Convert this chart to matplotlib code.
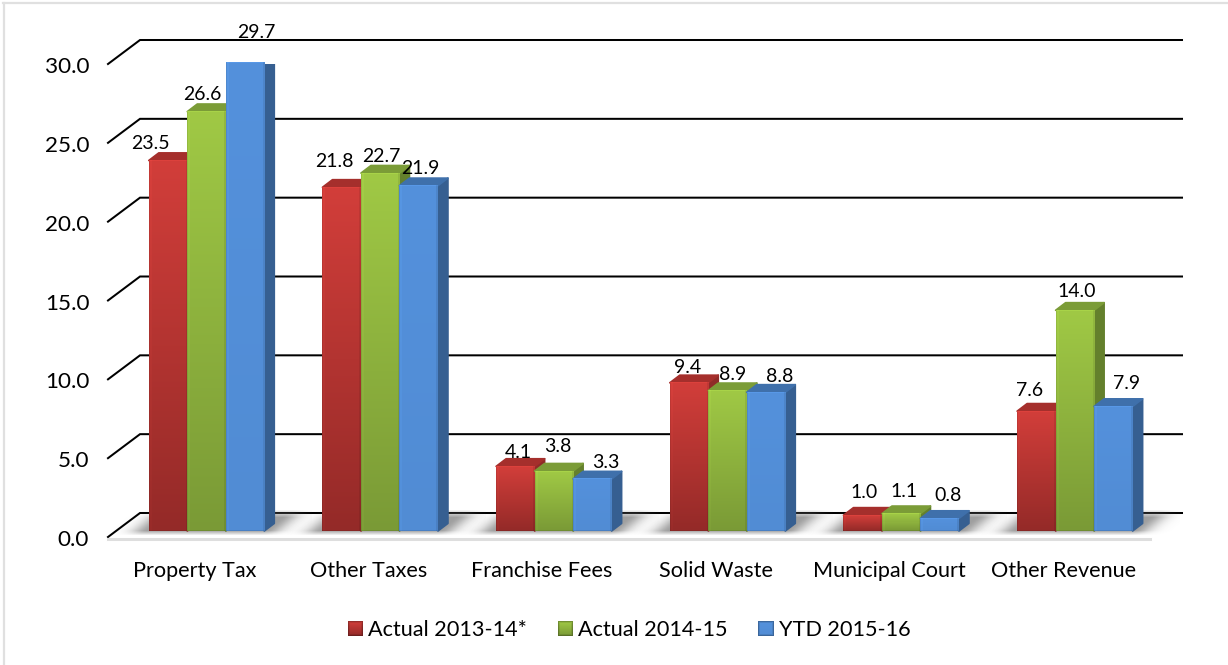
import numpy as np
import matplotlib
matplotlib.use("Agg")
import matplotlib.pyplot as plt
from matplotlib.patches import Polygon, Rectangle
from matplotlib.transforms import Affine2D
from matplotlib.legend_handler import HandlerBase
from matplotlib.colors import to_rgb

categories = ["Property Tax", "Other Taxes", "Franchise Fees", "Solid Waste", "Municipal Court", "Other Revenue"]
series_names = ["Actual 2013-14*", "Actual 2014-15", "YTD 2015-16"]
actual_2013_14 = [23.5, 21.8, 4.1, 9.4, 1.0, 7.6]
actual_2014_15 = [26.6, 22.7, 3.8, 8.9, 1.1, 14.0]
ytd_2015_16 = [29.7, 21.9, 3.3, 8.8, 0.8, 7.9]
y_ticks = [0, 5, 10, 15, 20, 25, 30]
y_tick_labels = ["0.0", "5.0", "10.0", "15.0", "20.0", "25.0", "30.0"]

# hand-placed data label offsets (pixels from the top centre of each bar)
label_offsets = [
    [(-18, 17), (-7.7, 26), (2.7, 14), (-1, 15), (1.3, 23), (-7, 21)],
    [(-4.5, 17.5), (0.8, 17), (4.2, 25), (5.5, 16.6), (2.8, 21.7), (2, 19)],
    [(11, 30.6), (1.3, 17.6), (13.7, 16), (14, 16), (8.3, 22.4), (12.7, 23)],
]

plt.rcParams["font.family"] = ["Lato", "DejaVu Sans"]
FS_LABEL = 14.0
FS_CAT = 15.6
FS_Y = 16.2
W, H = 1228, 665
fig = plt.figure(figsize=(W / 100, H / 100), dpi=100)
ax = fig.add_axes([108 / W, (H - 537) / H, 1042 / W, 473 / H])
ax.patch.set_alpha(0)
for s in ax.spines.values():
    s.set_visible(False)

PX = 173.667            # pixels per category
PY = 473 / 30           # pixels per y unit
bar_w = 38.5 / PX
bar_trans = ax.transData + Affine2D().translate(11.7, 6)
depth_x, depth_y = 10.0 / PX, 7.6 / PY

faces = [
    dict(top="#d23e3a", bot="#942a28", side="#8f2b28", cap="#a52f2c"),
    dict(top="#a0c945", bot="#7a9a36", side="#64802c", cap="#7b9c37"),
    dict(top="#5491dc", bot="#518cd4", side="#365f91", cap="#3f70ab"),
]
all_values = [actual_2013_14, actual_2014_15, ytd_2015_16]

# back wall grid lines and the diagonals to the front plane
wall_x, wall_y = 32 / PX, 24 / PY
for t in y_ticks:
    ax.plot([-0.5, -0.5 + wall_x, 5.5 + wall_x], [t, t + wall_y, t + wall_y],
            color="black", lw=1.45, clip_on=False, zorder=1, solid_joinstyle="miter")
# floor front edge
ax.plot([-0.5, 5.5], [-0.12, -0.12], color="#dedede", lw=2.2, clip_on=False, zorder=1.2)


def shadow_image(group_w=115.5, pad=48, rows=26):
    cols = int(group_w + 2 * pad)
    yy, xx = np.mgrid[0:rows, 0:cols]
    t = rows - 1 - yy               # pixels above the bottom of the image
    u = xx - pad - 1.2 * (t - 5)     # sheared across the floor
    d = np.where(u < 0, -u, np.where(u > group_w, u - group_w, 0))
    a = 0.68 * np.exp(-(d / 17.0) ** 2)
    a *= np.clip(t / 5.0, 0, 1) * np.clip((rows - t) / 8.0, 0, 1)
    img = np.ones((rows, cols, 4)) * 0.45
    img[..., 3] = a
    return img


shadow = shadow_image()
for i in range(len(categories)):
    sw = shadow.shape[1] / PX
    ax.imshow(shadow, extent=[i - sw / 2, i + sw / 2, -5 / PY, (shadow.shape[0] - 5) / PY],
              transform=bar_trans, aspect="auto", zorder=1.5, clip_on=False, interpolation="bilinear")


def bar_image(top, bot, height_px, width_px=39):
    h = max(int(round(height_px)), 2)
    c0, c1 = np.array(to_rgb(top)), np.array(to_rgb(bot))
    t = np.linspace(0, 1, h)[:, None, None]
    img = np.repeat(c0[None, None, :] * (1 - t) + c1[None, None, :] * t, width_px, axis=1)
    img[:, :1] *= 0.94
    img[:, -2:] *= 0.92
    img[:, 1:3] = np.clip(img[:, 1:3] * 1.03, 0, 1)
    img[-1:, :] *= 0.92
    img[:1, :] = np.clip(img[:1, :] * 1.05, 0, 1)
    return np.clip(img, 0, 1)


for k, (vals, f) in enumerate(zip(all_values, faces)):
    for i, v in enumerate(vals):
        x = i + (k - 1) * bar_w
        x0, x1 = x - bar_w / 2, x + bar_w / 2
        z = 3 + i + k * 0.1
        ax.add_patch(Polygon([(x1, 0), (x1 + depth_x, depth_y), (x1 + depth_x, v + depth_y), (x1, v)],
                             closed=True, fc=f["side"], ec=f["side"], lw=1.2, joinstyle="round",
                             transform=bar_trans, zorder=z))
        ax.add_patch(Polygon([(x0, v), (x0 + depth_x, v + depth_y), (x1 + depth_x, v + depth_y), (x1, v)],
                             closed=True, fc=f["cap"], ec=f["cap"], lw=1.2, joinstyle="round",
                             transform=bar_trans, zorder=z))
        ax.bar(x, v, width=bar_w, color=f["top"], transform=bar_trans, zorder=z + 0.01)
        ax.imshow(bar_image(f["top"], f["bot"], v * PY), extent=[x0, x1, 0, v], transform=bar_trans,
                  aspect="auto", zorder=z + 0.02, interpolation="nearest", clip_on=False)
        ax.annotate(f"{v:.1f}", xy=(x, v), xycoords=bar_trans, xytext=label_offsets[k][i],
                    textcoords="offset pixels", ha="center", va="center", fontsize=FS_LABEL,
                    color="black", zorder=20, annotation_clip=False)

ax.set_xlim(-0.5, 5.5)
ax.set_ylim(0, 30)
ax.set_xticks(range(len(categories)), categories, fontsize=FS_CAT)
ax.set_yticks(y_ticks, y_tick_labels, fontsize=FS_Y)
ax.tick_params(axis="both", length=0)
ax.tick_params(axis="y", pad=13.5)
ax.tick_params(axis="x", pad=17.5)
shift = Affine2D().translate(0, 7)
for lab in ax.get_yticklabels():
    lab.set_va("top")
    lab.set_transform(lab.get_transform() + shift)


class GradientSquare(HandlerBase):
    def create_artists(self, legend, orig, xd, yd, width, height, fontsize, trans):
        top, bot = orig.top, orig.bot
        out = []
        n = 15
        for j in range(n):
            for m in range(n):
                tt = j / (n - 1)
                edge = min(j, n - 1 - j, m, n - 1 - m)
                c = np.array(to_rgb(top)) * (1 - tt) + np.array(to_rgb(bot)) * tt
                c = c * (0.72 if edge == 0 else 0.9 if edge == 1 else 1.0)
                out.append(Rectangle((-xd + width * m / n, -yd + height * (n - 1 - j) / n),
                                     width / n + 0.02, height / n + 0.02, fc=c, ec="none",
                                     transform=trans))
        return out


handles = []
for name, f in zip(series_names, faces):
    r = Rectangle((0, 0), 1, 1, label=name)
    r.top, r.bot = f["top"], f["bot"]
    handles.append(r)
ax.legend(handles=handles, handler_map={Rectangle: GradientSquare()}, ncol=3, loc="center",
          bbox_to_anchor=(629 / W, (H - 630) / H), bbox_transform=fig.transFigure, frameon=False,
          fontsize=FS_CAT, handlelength=0.7, handleheight=0.7, handletextpad=0.23,
          columnspacing=1.43, borderpad=0, borderaxespad=0)

# outer chart border (visible on the top and left only)
fig.add_artist(plt.Line2D([4 / W, 4 / W], [0, (H - 3) / H], color="#e0e0e0", lw=1.6))
fig.add_artist(plt.Line2D([3.3 / W, 1], [(H - 3) / H, (H - 3) / H], color="#e0e0e0", lw=1.6))

fig.savefig("out.png", dpi=100, facecolor="white")
